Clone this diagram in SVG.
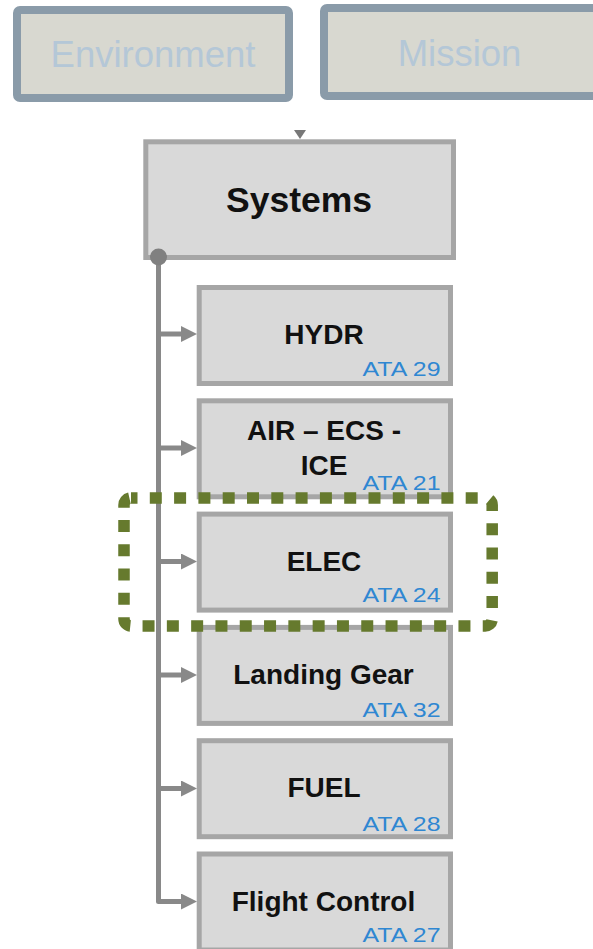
<svg xmlns="http://www.w3.org/2000/svg" width="593" height="949" viewBox="0 0 593 949">
  <style>
    .ctx { fill: #d8d8d0; stroke: #8a9ba9; stroke-width: 8; }
    .ctx-label { font-family: "Liberation Sans", Arial, sans-serif; font-size: 36.5px; fill: #b4c7d7; text-anchor: middle; }
    .sys { fill: #d9d9d9; stroke: #a6a6a6; stroke-width: 5; }
    .sys-label { font-family: "Liberation Sans", Arial, sans-serif; font-weight: bold; font-size: 35.5px; fill: #111; text-anchor: middle; }
    .sub { fill: #d9d9d9; stroke: #a6a6a6; stroke-width: 5; }
    .sub-label { font-family: "Liberation Sans", Arial, sans-serif; font-weight: bold; font-size: 28px; fill: #111; text-anchor: middle; }
    .ata { font-family: "Liberation Sans", Arial, sans-serif; font-size: 21px; fill: #2f87d2; text-anchor: end; }
    .wire { fill: none; stroke: #898989; stroke-width: 5; stroke-linejoin: round; }
    .focus { fill: none; stroke: #667a2e; stroke-width: 11.5; stroke-dasharray: 12 12.3; stroke-dashoffset: 5.5; }
  </style>
  <defs>
    <marker id="arrow" markerUnits="userSpaceOnUse" markerWidth="16" markerHeight="16" refX="1" refY="8" orient="auto">
      <path d="M0,0 L16,8 L0,16 Z" fill="#898989"/>
    </marker>
  </defs>

  <!-- context boxes -->
  <g id="environment">
    <rect class="ctx" x="17" y="10" width="272" height="88" rx="3"/>
    <text class="ctx-label" x="153" y="66.5">Environment</text>
  </g>
  <g id="mission">
    <rect class="ctx" x="324" y="8" width="280" height="88" rx="3"/>
    <text class="ctx-label" x="459.5" y="65.5">Mission</text>
  </g>

  <!-- systems node -->
  <g id="systems">
    <rect class="sys" x="145.8" y="141.8" width="307.7" height="115.7"/>
    <text class="sys-label" x="299" y="211.5">Systems</text>
  </g>

  <!-- sub-systems -->
  <g id="hydr">
    <rect class="sub" x="199.2" y="287.5" width="251.3" height="96"/>
    <text class="sub-label" x="324" y="344">HYDR</text>
    <text class="ata" x="440.5" y="376" textLength="78" lengthAdjust="spacingAndGlyphs">ATA 29</text>
  </g>
  <g id="air-ecs-ice">
    <rect class="sub" x="199.2" y="400.8" width="251.3" height="96"/>
    <text class="sub-label" x="324" y="440">AIR – ECS -</text>
    <text class="sub-label" x="324" y="475">ICE</text>
    <text class="ata" x="440.5" y="490" textLength="78" lengthAdjust="spacingAndGlyphs">ATA 21</text>
  </g>
  <g id="elec">
    <rect class="sub" x="199.2" y="514.1" width="251.3" height="96"/>
    <text class="sub-label" x="324" y="570.5">ELEC</text>
    <text class="ata" x="440.5" y="602" textLength="78" lengthAdjust="spacingAndGlyphs">ATA 24</text>
  </g>
  <g id="landing-gear">
    <rect class="sub" x="199.2" y="627.4" width="251.3" height="96"/>
    <text class="sub-label" x="323.5" y="683.5">Landing Gear</text>
    <text class="ata" x="440.5" y="716.5" textLength="78" lengthAdjust="spacingAndGlyphs">ATA 32</text>
  </g>
  <g id="fuel">
    <rect class="sub" x="199.2" y="740.7" width="251.3" height="96"/>
    <text class="sub-label" x="324" y="797">FUEL</text>
    <text class="ata" x="440.5" y="831" textLength="78" lengthAdjust="spacingAndGlyphs">ATA 28</text>
  </g>
  <g id="flight-control">
    <rect class="sub" x="199.2" y="854" width="251.3" height="96"/>
    <text class="sub-label" x="323.5" y="910.5">Flight Control</text>
    <text class="ata" x="440.5" y="941.5" textLength="78" lengthAdjust="spacingAndGlyphs">ATA 27</text>
  </g>

  <!-- connectors -->
  <g id="connectors">
    <polygon points="294,130 306,130 300,139" fill="#787878"/>
    <path class="wire" d="M158.5,257 V901.5 H182" marker-end="url(#arrow)"/>
    <line class="wire" x1="158.5" y1="334" x2="182" y2="334" marker-end="url(#arrow)"/>
    <line class="wire" x1="158.5" y1="448" x2="182" y2="448" marker-end="url(#arrow)"/>
    <line class="wire" x1="158.5" y1="561.5" x2="182" y2="561.5" marker-end="url(#arrow)"/>
    <line class="wire" x1="158.5" y1="675" x2="182" y2="675" marker-end="url(#arrow)"/>
    <line class="wire" x1="158.5" y1="788.5" x2="182" y2="788.5" marker-end="url(#arrow)"/>
    <circle cx="158.5" cy="257" r="8.5" fill="#808080"/>
  </g>

  <!-- highlight around ELEC -->
  <g id="elec-highlight">
    <rect class="focus" x="124" y="498" width="368.2" height="128" rx="7"/>
  </g>
</svg>
